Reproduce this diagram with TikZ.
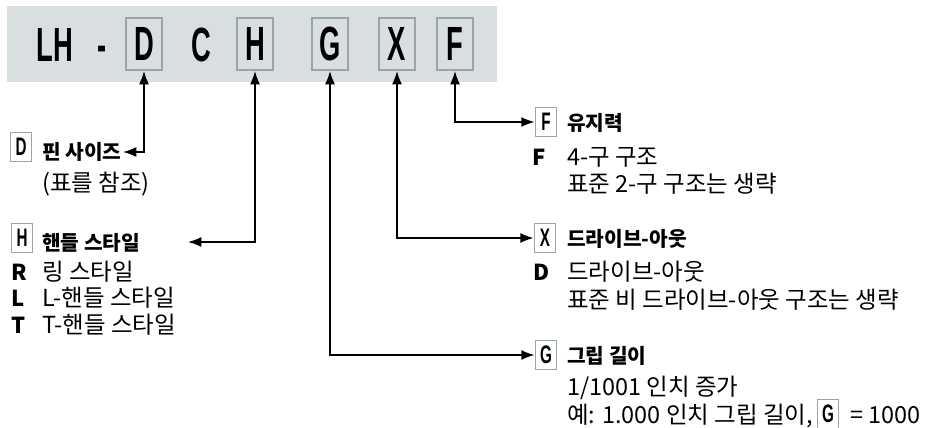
\documentclass[tikz,border=0pt]{standalone}
\usepackage{fontspec}
\usetikzlibrary{arrows.meta}
\setmainfont{Noto Sans CJK KR}
\newfontfamily\condfont{Liberation Sans}[BoldFont=* Bold]
\definecolor{band}{HTML}{D9DEE1}
\definecolor{boxline}{HTML}{9AA6A1}
\newcommand\bigletter[1]{\scalebox{0.57}[1]{\fontsize{36}{36}\condfont\bfseries #1}}
\newcommand\smallletter[1]{\scalebox{0.6}[1]{\fontsize{19}{20}\condfont\bfseries #1}}
\tikzset{
  bigbox/.style={draw=boxline, line width=1.5pt, minimum width=27.5pt, minimum height=39pt, inner sep=0pt},
  smallbox/.style={draw=boxline, line width=1.1pt, minimum width=16pt, minimum height=22pt, inner sep=0pt},
  bigtext/.style={anchor=base, inner sep=0pt},
  txt/.style={anchor=base west, inner sep=0pt, font=\fontsize{17.6}{20}\selectfont},
  head/.style={txt, font=\fontsize{15.2}{19}\selectfont\bfseries},
  key/.style={txt, font=\fontsize{16.5}{19}\selectfont\bfseries},
  conn/.style={line width=1.1pt, {Latex[length=10pt,width=7.5pt]}-{Latex[length=10pt,width=7.5pt]}},
}
\begin{document}
\begin{tikzpicture}[x=0.75pt,y=-0.75pt]
\useasboundingbox (0,0) rectangle (926,428);
\fill[band] (7,6) rectangle (497,82);
% code letters
\node[bigtext] (cLH) at (55,62) {\bigletter{LH}};
\node[bigtext] (cdash) at (102,62) {\bigletter{-}};
\node[bigbox] (bD) at (144,44) {\bigletter{D}};
\node[bigtext] (cC) at (201,62) {\bigletter{C}};
\node[bigbox] (bH) at (255,44) {\bigletter{H}};
\node[bigbox] (bG) at (330,44) {\bigletter{G}};
\node[bigbox] (bX) at (397,44) {\bigletter{X}};
\node[bigbox] (bF) at (455,44) {\bigletter{F}};
% D legend
\node[smallbox] (lD) at (21,147) {\smallletter{D}};
\node[head] (tD) at (42,160) {핀 사이즈};
\node[txt] (tD2) at (42,191) {(표를 참조)};
\coordinate (aD) at (123,152);
% H legend
\node[smallbox] (lH) at (22,238) {\smallletter{H}};
\node[head] (tH) at (42,250) {핸들 스타일};
\coordinate (aH) at (188,242);
\node[key] (kR) at (11,280) {R};
\node[txt] (tR) at (42,280) {링 스타일};
\node[key] (kL) at (11,306) {L};
\node[txt] (tL) at (42,306) {L-핸들 스타일};
\node[key] (kT) at (11,333) {T};
\node[txt] (tT) at (42,333) {T-핸들 스타일};
% F legend
\node[smallbox] (lF) at (546,122) {\smallletter{F}};
\node[head] (tF) at (567,131) {유지력};
\node[key] (kF) at (532,166) {F};
\node[txt] (tF1) at (567,166) {4-구 구조};
\node[txt] (tF2) at (567,193) {표준 2-구 구조는 생략};
% X legend
\node[smallbox] (lX) at (545,238) {\smallletter{X}};
\node[head] (tX) at (567,246) {드라이브-아웃};
\node[key] (kD) at (533,281) {D};
\node[txt] (tX1) at (567,281) {드라이브-아웃};
\node[txt] (tX2) at (567,308) {표준 비 드라이브-아웃 구조는 생략};
% G legend
\node[smallbox] (lG) at (546,355) {\smallletter{G}};
\node[head] (tG) at (567,363) {그립 길이};
\node[txt] (tG1) at (567,395) {1/1001 인치 증가};
\node[txt] (tG2) at (567,423) {예: 1.000 인치 그립 길이,};
\node[smallbox] (lG2) at (828,414) {\smallletter{G}};
\node[txt] (tG3) at (850,423) {= 1000};
% connectors
\draw[conn] (aD) -| (bD.south);
\draw[conn] (aH) -| (bH.south);
\draw[conn] (bG.south) |- (lG.west);
\draw[conn] (bX.south) |- (lX.west);
\draw[conn] (bF.south) |- (lF.west);
\end{tikzpicture}
\end{document}
